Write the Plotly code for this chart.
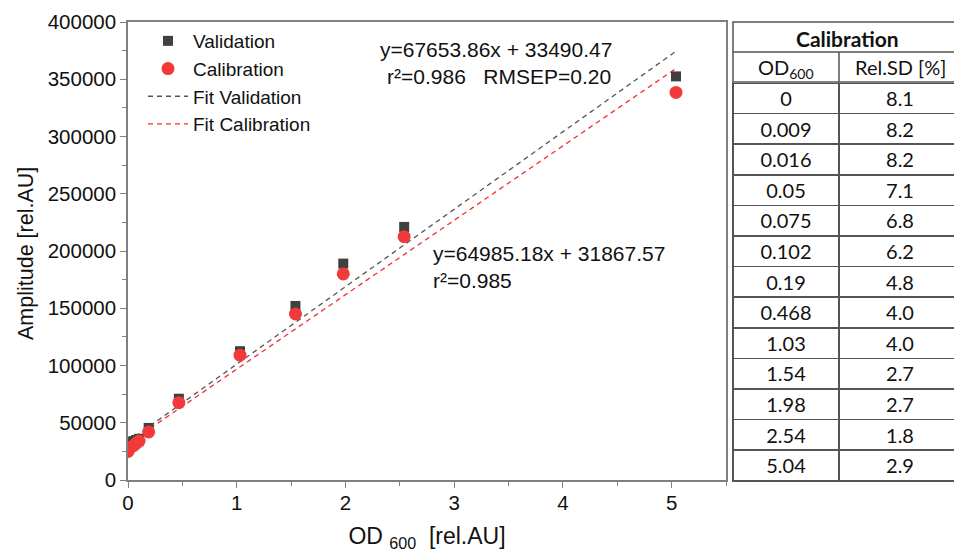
import plotly.graph_objects as go

# ---- data ----
od_values = [0, 0.009, 0.016, 0.05, 0.075, 0.102, 0.19, 0.468, 1.03, 1.54, 1.98, 2.54, 5.04]
validation_amp = [31000, 32000, 33000, 34000, 35000, 36000, 45500, 71000, 112500, 152000, 189000, 221000, 352500]
calibration_amp = [25000, 27000, 28000, 30000, 32000, 34000, 42000, 67500, 109000, 145000, 180000, 212500, 338500]

fit_val_slope, fit_val_intercept = 67653.86, 33490.47
fit_cal_slope, fit_cal_intercept = 64985.18, 31867.57
fit_x = [0, 5.04]

table_title = "Calibration"
table_header = ["OD<sub>600</sub>", "Rel.SD [%]"]
table_od = ["0", "0.009", "0.016", "0.05", "0.075", "0.102", "0.19", "0.468", "1.03", "1.54", "1.98", "2.54", "5.04"]
table_relsd = ["8.1", "8.2", "8.2", "7.1", "6.8", "6.2", "4.8", "4.0", "4.0", "2.7", "2.7", "1.8", "2.9"]

# page has an 8px body margin: figure occupies page pixels 8..962 x 8..552
OFF = 8
W, H = 962 - OFF, 552 - OFF
FONT = "Liberation Sans, Arial, sans-serif"
TFONT = "Lato, Open Sans, sans-serif"
GRID = "#555555"

def px_x(p):
    return (p - OFF) / W

def px_y(p):
    return 1 - (p - OFF) / H

T_L, T_M, T_R = 733, 839, 961
T_TOP, T_HEAD, T_BODY, T_BOT = 22, 52, 82, 486

fig = go.Figure()

fig.add_trace(go.Scatter(
    x=fit_x, y=[fit_val_slope * x + fit_val_intercept for x in fit_x],
    mode="lines", name="Fit Validation", legendrank=3,
    line=dict(color="#555555", width=1.3, dash="5px,4px")))
fig.add_trace(go.Scatter(
    x=fit_x, y=[fit_cal_slope * x + fit_cal_intercept for x in fit_x],
    mode="lines", name="Fit Calibration", legendrank=4,
    line=dict(color="#f03030", width=1.3, dash="5px,4px")))
fig.add_trace(go.Scatter(
    x=od_values, y=validation_amp, mode="markers", name="Validation", legendrank=1,
    marker=dict(symbol="square", size=10, color="#404040")))
fig.add_trace(go.Scatter(
    x=od_values, y=calibration_amp, mode="markers", name="Calibration", legendrank=2,
    marker=dict(symbol="circle", size=13, color="#f23a3a")))

# table body (header row is drawn separately so the subscript does not stretch it)
fig.add_trace(go.Table(
    domain=dict(x=[px_x(T_L), px_x(T_R)], y=[px_y(T_BOT), px_y(T_BODY)]),
    columnwidth=[T_M - T_L, T_R - T_M],
    header=dict(values=["", ""], height=1, font=dict(size=1, color="white"),
                fill_color="white", line=dict(color="white", width=0)),
    cells=dict(values=[table_od, table_relsd],
               height=30.6, align="center",
               font=dict(family=TFONT, size=20, color="#111111"),
               fill_color="white", line=dict(color=GRID, width=1.5)),
))

axis_common = dict(showgrid=False, zeroline=False, showline=True, linecolor="#808080",
                   linewidth=1.5, mirror=True, ticks="outside", ticklen=6, tickcolor="#808080",
                   tickfont=dict(family=FONT, size=20.5, color="#111111"))

fig.update_xaxes(domain=[px_x(128), px_x(726)], range=[0, 5.5], dtick=1, tick0=0,
                 minor=dict(dtick=0.5, ticks="outside", ticklen=4, tickcolor="#808080"),
                 ticklabelstandoff=-2,
                 title=dict(text="OD <sub>600</sub>  [rel.AU]", font=dict(family=FONT, size=23, color="#111111"),
                            standoff=17),
                 **axis_common)
fig.update_yaxes(domain=[px_y(480), px_y(22)], range=[0, 400000], dtick=50000, tickformat="d",
                 minor=dict(dtick=25000, ticks="outside", ticklen=4, tickcolor="#808080"),
                 **axis_common)

annotations = [
    dict(xref="paper", yref="paper", x=px_x(26), y=px_y(254), xanchor="center", yanchor="middle",
         text="Amplitude [rel.AU]", textangle=-90, showarrow=False,
         font=dict(family=FONT, size=21.5, color="#111111")),
    dict(xref="paper", yref="paper", x=px_x(496), y=px_y(63), xanchor="center", yanchor="middle",
         text="y=67653.86x + 33490.47<br> r²=0.986   RMSEP=0.20", align="center", showarrow=False,
         font=dict(family=FONT, size=21, color="#111111")),
    dict(xref="paper", yref="paper", x=px_x(431), y=px_y(267), xanchor="left", yanchor="middle",
         text="y=64985.18x + 31867.57<br>r²=0.985", align="left", showarrow=False,
         font=dict(family=FONT, size=21, color="#111111")),
    dict(xref="paper", yref="paper", x=px_x((T_L + T_R) / 2), y=px_y((T_TOP + T_HEAD) / 2 + 1),
         xanchor="center", yanchor="middle", text="<b>" + table_title + "</b>", showarrow=False,
         font=dict(family=TFONT, size=21, color="#111111")),
    dict(xref="paper", yref="paper", x=px_x((T_L + T_M) / 2), y=px_y((T_HEAD + T_BODY) / 2 + 1),
         xanchor="center", yanchor="middle", text=table_header[0], showarrow=False,
         font=dict(family=TFONT, size=20, color="#111111")),
    dict(xref="paper", yref="paper", x=px_x((T_M + T_R) / 2), y=px_y((T_HEAD + T_BODY) / 2),
         xanchor="center", yanchor="middle", text=table_header[1], showarrow=False,
         font=dict(family=TFONT, size=20, color="#111111")),
]

shapes = [
    dict(type="rect", xref="paper", yref="paper", x0=px_x(T_L), x1=px_x(T_R), y0=px_y(T_BODY), y1=px_y(T_TOP),
         line=dict(color=GRID, width=1.5), fillcolor="rgba(0,0,0,0)"),
    dict(type="line", xref="paper", yref="paper", x0=px_x(T_L), x1=px_x(T_R), y0=px_y(T_HEAD), y1=px_y(T_HEAD),
         line=dict(color=GRID, width=1.5)),
    dict(type="line", xref="paper", yref="paper", x0=px_x(T_M), x1=px_x(T_M), y0=px_y(T_HEAD), y1=px_y(T_BODY),
         line=dict(color=GRID, width=1.5)),
]

fig.update_layout(
    width=W, height=H,
    margin=dict(l=0, r=0, t=0, b=0, autoexpand=False),
    paper_bgcolor="white", plot_bgcolor="white",
    showlegend=True,
    legend=dict(x=px_x(143), y=px_y(22), xanchor="left", yanchor="top",
                bgcolor="rgba(0,0,0,0)", font=dict(family=FONT, size=19, color="#111111"),
                tracegroupgap=0, itemwidth=40),
    annotations=annotations,
    shapes=shapes,
)

fig.write_html("out.html")
